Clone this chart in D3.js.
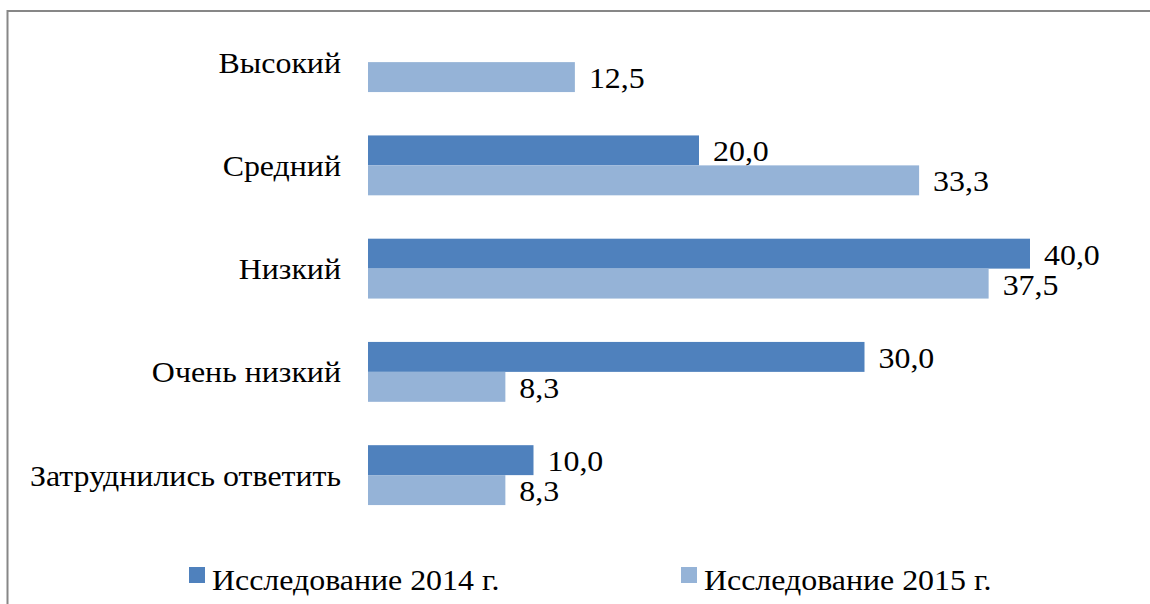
<!DOCTYPE html>
<html>
<head>
<meta charset="utf-8">
<script src="https://cdn.jsdelivr.net/npm/d3@7"></script>
<style>
  body { margin: 0; background: #fff; }
  text { font-family: "Liberation Serif", "Times New Roman", serif; fill: #000; }
</style>
</head>
<body>
<div id="chart"></div>
<script>
// Данные
const categories = ["Высокий", "Средний", "Низкий", "Очень низкий", "Затруднились ответить"];
const seriesNames = ["Исследование 2014 г.", "Исследование 2015 г."];
const values2014 = [null, 20.0, 40.0, 30.0, 10.0];
const values2015 = [12.5, 33.3, 37.5, 8.3, 8.3];
const colors = ["#4F81BD", "#95B3D7"];

const W = 1150, H = 604;
const stretch = 1.1; // шрифт в оригинале немного растянут по горизонтали

const svg = d3.select("#chart")
  .append("svg")
  .attr("width", W)
  .attr("height", H);

// рамка (обрезана справа и снизу)
svg.append("rect")
  .attr("x", 7.5)
  .attr("y", 11)
  .attr("width", 1200)
  .attr("height", 700)
  .attr("fill", "none")
  .attr("stroke", "#878787")
  .attr("stroke-width", 2);

// Шкалы
const x = d3.scaleLinear()
  .domain([0, 40])
  .range([368, 1030]);

const y = d3.scaleBand()
  .domain(categories)
  .range([10.5, 526.75])
  .paddingInner(0.42)
  .paddingOuter(0.21);

const ySub = d3.scaleBand()
  .domain(seriesNames)
  .range([0, y.bandwidth()]);

const fmt = v => d3.format(".1f")(v).replace(".", ",");
const place = (px, py) => `translate(${px},${py}) scale(${stretch},1)`;

// подписи категорий
svg.append("g")
  .selectAll("text")
  .data(categories)
  .join("text")
  .attr("transform", d => place(341, y(d) + y.bandwidth() / 2 + 10.5))
  .attr("text-anchor", "end")
  .attr("font-size", 29)
  .text(d => d);

// бары
const seriesData = [values2014, values2015];
seriesData.forEach((vals, si) => {
  const rows = categories.map((c, i) => ({cat: c, value: vals[i]})).filter(d => d.value != null);
  const g = svg.append("g");

  g.selectAll("rect")
    .data(rows)
    .join("rect")
    .attr("x", x(0))
    .attr("y", d => y(d.cat) + ySub(seriesNames[si]))
    .attr("width", d => x(d.value) - x(0))
    .attr("height", ySub.bandwidth())
    .attr("fill", colors[si]);

  g.selectAll("text")
    .data(rows)
    .join("text")
    .attr("transform", d => place(x(d.value) + 14, y(d.cat) + ySub(seriesNames[si]) + ySub.bandwidth() / 2 + 11))
    .attr("font-size", 29)
    .text(d => fmt(d.value));
});

// легенда
const legendX = [189, 681];
const legend = svg.append("g");
seriesNames.forEach((name, i) => {
  legend.append("rect")
    .attr("x", legendX[i])
    .attr("y", 567)
    .attr("width", 16)
    .attr("height", 16)
    .attr("fill", colors[i]);
  legend.append("text")
    .attr("transform", place(legendX[i] + 23, 590))
    .attr("font-size", 29)
    .text(name);
});
</script>
</body>
</html>
